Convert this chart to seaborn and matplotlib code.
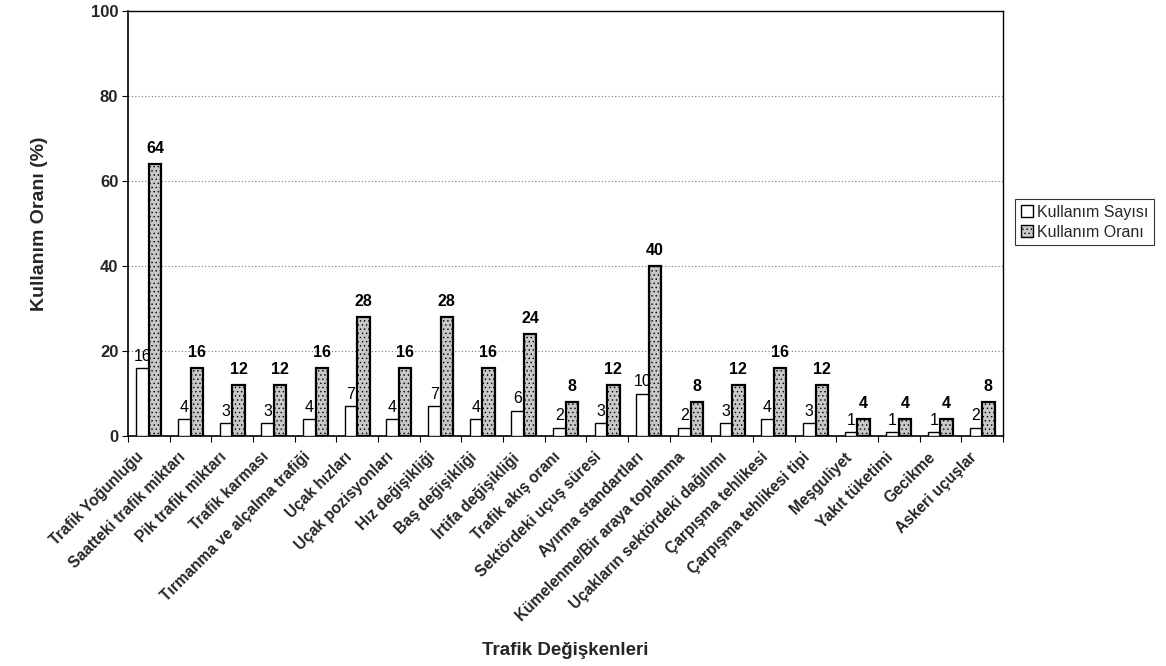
import matplotlib
matplotlib.use("Agg")
import matplotlib.pyplot as plt
import matplotlib.transforms as mtransforms
from matplotlib.patches import Patch
import seaborn as sns
import pandas as pd

categories = [
    "Trafik Yoğunluğu", "Saatteki trafik miktarı", "Pik trafik miktarı",
    "Trafik karması", "Tırmanma ve alçalma trafiği", "Uçak hızları",
    "Uçak pozisyonları", "Hız değişikliği", "Baş değişikliği",
    "İrtifa değişikliği", "Trafik akış oranı", "Sektördeki uçuş süresi",
    "Ayırma standartları", "Kümelenme/Bir araya toplanma",
    "Uçakların sektördeki dağılımı", "Çarpışma tehlikesi",
    "Çarpışma tehlikesi tipi", "Meşguliyet", "Yakıt tüketimi",
    "Gecikme", "Askeri uçuşlar",
]
kullanim_sayisi = [16, 4, 3, 3, 4, 7, 4, 7, 4, 6, 2, 3, 10, 2, 3, 4, 3, 1, 1, 1, 2]
kullanim_orani = [64, 16, 12, 12, 16, 28, 16, 28, 16, 24, 8, 12, 40, 8, 12, 16, 12, 4, 4, 4, 8]
series_names = ["Kullanım Sayısı", "Kullanım Oranı"]
y_ticks = [0, 20, 40, 60, 80, 100]

df = pd.DataFrame({
    "Değişken": categories * 2,
    "Değer": kullanim_sayisi + kullanim_orani,
    "Seri": [series_names[0]] * len(categories) + [series_names[1]] * len(categories),
})

sns.set_theme(style="white")
plt.rcParams["font.family"] = ["Liberation Sans", "DejaVu Sans"]
plt.rcParams["hatch.linewidth"] = 0.5

fig = plt.figure(figsize=(11.66, 6.66), dpi=100)
ax = fig.add_axes([0.1098, 0.3453, 0.7504, 0.6382])

sns.barplot(data=df, x="Değişken", y="Değer", hue="Seri", hue_order=series_names,
            order=categories, width=0.6, gap=0, dodge=True, ax=ax,
            legend=False, zorder=3)

white_bars, pattern_bars = ax.containers[0], ax.containers[1]
white_style = dict(facecolor="white", edgecolor="black", linewidth=1.0)
pattern_style = dict(facecolor="#c8c8c8", edgecolor="black", linewidth=1.6, hatch="....")
for p in white_bars:
    p.set(**white_style)
for p in pattern_bars:
    p.set(**pattern_style)

ax.bar_label(white_bars, labels=[str(v) for v in kullanim_sayisi], padding=3,
             fontsize=11.5, color="black")
ax.bar_label(pattern_bars, labels=[str(v) for v in kullanim_orani], padding=6,
             fontsize=11.5, fontweight="bold", color="black")

ax.set_ylim(0, 100)
ax.set_xlim(-0.5, len(categories) - 0.5)
ax.set_yticks(y_ticks)
ax.set_yticklabels([str(t) for t in y_ticks], fontsize=12, fontweight="bold")
for t in y_ticks[1:-1]:
    ax.axhline(t, color="#777777", linestyle=(0, (1, 2)), linewidth=0.8, zorder=1)

# category ticks sit between groups, labels under the group centres
ax.set_xticks(range(len(categories)))
ax.set_xticklabels(categories, rotation=45, ha="right", rotation_mode="anchor",
                   fontsize=11.2, fontweight="bold")
ax.tick_params(axis="x", length=0, pad=11)
shift = mtransforms.ScaledTranslation(-0.13, 0.02, fig.dpi_scale_trans)
for lbl in ax.get_xticklabels():
    lbl.set_transform(lbl.get_transform() + shift)
ax.set_xticks([i - 0.5 for i in range(len(categories) + 1)], minor=True)
ax.tick_params(axis="x", which="minor", direction="out", length=4, width=0.8,
               color="black", bottom=True)
ax.tick_params(axis="y", direction="out", length=4, width=0.8, color="black",
               left=True, pad=3)

for s in ax.spines.values():
    s.set_visible(True)
    s.set_color("black")
    s.set_linewidth(1.0)
ax.spines["left"].set_linewidth(1.2)
ax.spines["bottom"].set_linewidth(1.2)

ax.set_ylabel("Kullanım Oranı (%)", fontsize=14, fontweight="bold")
ax.yaxis.set_label_coords(-0.091, 0.5)
ax.set_xlabel("Trafik Değişkenleri", fontsize=13.5, fontweight="bold")
ax.xaxis.set_label_coords(0.5, -0.485)

handles = [Patch(**white_style), Patch(**{**pattern_style, "linewidth": 1.0})]
leg = fig.legend(handles, series_names, loc="upper left", bbox_to_anchor=(0.8705, 0.701),
                 frameon=True, fancybox=False, edgecolor="black", fontsize=11.5,
                 handlelength=0.75, handleheight=0.75, handletextpad=0.3,
                 borderpad=0.35, labelspacing=0.3, borderaxespad=0)
leg.get_frame().set_linewidth(0.8)

fig.savefig("out.png", dpi=100, facecolor="white")
